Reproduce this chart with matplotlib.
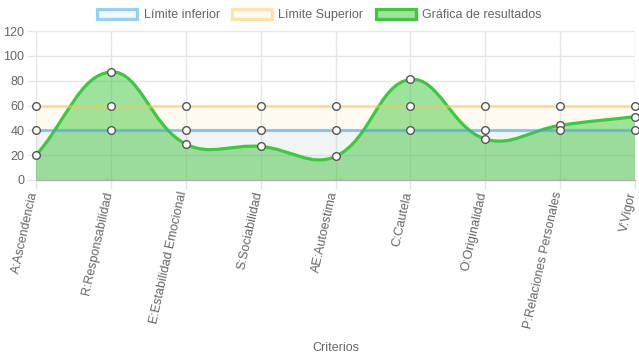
import numpy as np
import matplotlib
matplotlib.use("Agg")
import matplotlib.pyplot as plt
import matplotlib.transforms as mtransforms
from matplotlib.path import Path
from matplotlib.patches import PathPatch, Patch

plt.rcParams['font.family'] = ['Liberation Sans', 'DejaVu Sans']

# data
criterios = ["A:Ascendencia", "R:Responsabilidad", "E:Estabilidad Emocional",
             "S:Sociabilidad", "AE:Autoestima", "C:Cautela", "O:Originalidad",
             "P:Relaciones Personales", "V:Vigor"]
limite_inferior = [40, 40, 40, 40, 40, 40, 40, 40, 40]
limite_superior = [60, 60, 60, 60, 60, 60, 60, 60, 60]
resultados = [20, 87, 29, 27, 19, 81, 33, 44, 51]
y_ticks = [0, 20, 40, 60, 80, 100, 120]

GRAY = "#666666"
GRID = "#e6e6e6"
BLUE_LINE = (54 / 255, 162 / 255, 235 / 255, 0.5)
BLUE_FILL = (54 / 255, 162 / 255, 235 / 255, 0.07)
YEL_LINE = (255 / 255, 205 / 255, 86 / 255, 0.5)
YEL_FILL = (255 / 255, 205 / 255, 86 / 255, 0.07)
GREEN_LINE = "#3ec83e"
GREEN_FILL = (60 / 255, 200 / 255, 60 / 255, 0.5)

# pixel scale of the plot area (used for the spline, like Chart.js does)
PX_X = 75.0
PX_Y = 148.0 / 120.0


def spline_path(xs, ys, tension=0.4, close_to=None):
    """Bezier path through the points, Chart.js style tension."""
    px = np.array(xs, dtype=float) * PX_X
    py = np.array(ys, dtype=float) * PX_Y
    n = len(px)
    c_prev = []
    c_next = []
    for i in range(n):
        p0 = i - 1 if i > 0 else i
        p2 = i + 1 if i < n - 1 else i
        d01 = np.hypot(px[i] - px[p0], py[i] - py[p0])
        d12 = np.hypot(px[p2] - px[i], py[p2] - py[i])
        tot = d01 + d12
        s01 = d01 / tot if tot else 0
        s12 = d12 / tot if tot else 0
        fa = tension * s01
        fb = tension * s12
        dx = px[p2] - px[p0]
        dy = py[p2] - py[p0]
        c_prev.append((px[i] - fa * dx, py[i] - fa * dy))
        c_next.append((px[i] + fb * dx, py[i] + fb * dy))
    verts = [(px[0], py[0])]
    codes = [Path.MOVETO]
    for i in range(1, n):
        verts += [c_next[i - 1], c_prev[i], (px[i], py[i])]
        codes += [Path.CURVE4] * 3
    verts = [(vx / PX_X, vy / PX_Y) for vx, vy in verts]
    if close_to is not None:
        verts += [(xs[-1], close_to), (xs[0], close_to), verts[0]]
        codes += [Path.LINETO, Path.LINETO, Path.CLOSEPOLY]
    return Path(verts, codes)


fig = plt.figure(figsize=(6.39, 3.6), dpi=100)
ax = fig.add_axes([36 / 639, 1 - 180 / 360, (635 - 36) / 639, 149 / 360])

x = np.arange(len(criterios))

# green dataset (drawn first, underneath)
ax.add_patch(PathPatch(spline_path(x, resultados, close_to=0),
                       facecolor=GREEN_FILL, edgecolor='none', zorder=2))
ax.add_patch(PathPatch(spline_path(x, resultados), facecolor='none',
                       edgecolor=GREEN_LINE, linewidth=2.3, zorder=3))

# limits
ax.fill_between(x, 0, limite_superior, color=YEL_FILL, linewidth=0, zorder=2)
ax.plot(x, limite_superior, color=YEL_LINE, linewidth=2.3, zorder=3)
ax.fill_between(x, 0, limite_inferior, color=BLUE_FILL, linewidth=0, zorder=2)
ax.plot(x, limite_inferior, color=BLUE_LINE, linewidth=2.3, zorder=3)

for serie in (resultados, limite_superior, limite_inferior):
    ax.plot(x, serie, linestyle='none', marker='o', markersize=5.5,
            markerfacecolor='white', markeredgecolor='#555555',
            markeredgewidth=1.0, zorder=5, clip_on=False)

ax.set_xlim(0, len(criterios) - 1)
ax.set_ylim(0, 120)
ax.set_yticks(y_ticks)
ax.set_xticks(x)
ax.set_xticklabels(criterios, rotation=77.5, ha='right', va='center',
                   rotation_mode='anchor')
ax.tick_params(axis='both', color=GRID, labelcolor=GRAY,
               labelsize=9, length=6.5, width=1)
ax.tick_params(axis='x', pad=2)
ax.tick_params(axis='y', pad=2)

# nudge rotated labels a little to the left so the last one stays inside
shift = mtransforms.ScaledTranslation(-2 / 100, 0, fig.dpi_scale_trans)
for lbl in ax.get_xticklabels():
    lbl.set_transform(lbl.get_transform() + shift)

ax.grid(True, color=GRID, linewidth=1, alpha=1.0, zorder=0)
ax.set_axisbelow(True)
for side in ['top', 'right', 'left']:
    ax.spines[side].set_visible(False)
ax.spines['bottom'].set_color("#b0b0b0")
ax.spines['bottom'].set_linewidth(1)

ax.set_xlabel("Criterios", color=GRAY, fontsize=9)
ax.xaxis.set_label_coords(0.5, -1.09)

handles = [
    Patch(facecolor=BLUE_FILL, edgecolor=BLUE_LINE, linewidth=2.3, label="Límite inferior"),
    Patch(facecolor=YEL_FILL, edgecolor=YEL_LINE, linewidth=2.3, label="Límite Superior"),
    Patch(facecolor=GREEN_FILL, edgecolor=GREEN_LINE, linewidth=2.3, label="Gráfica de resultados"),
]
fig.legend(handles=handles, loc='center', bbox_to_anchor=(0.5, 1 - 15 / 360),
           ncol=3, frameon=False, fontsize=9, labelcolor=GRAY,
           handlelength=3.2, handleheight=0.9, handletextpad=0.5,
           columnspacing=1.0)

fig.savefig("out.png", dpi=100)
